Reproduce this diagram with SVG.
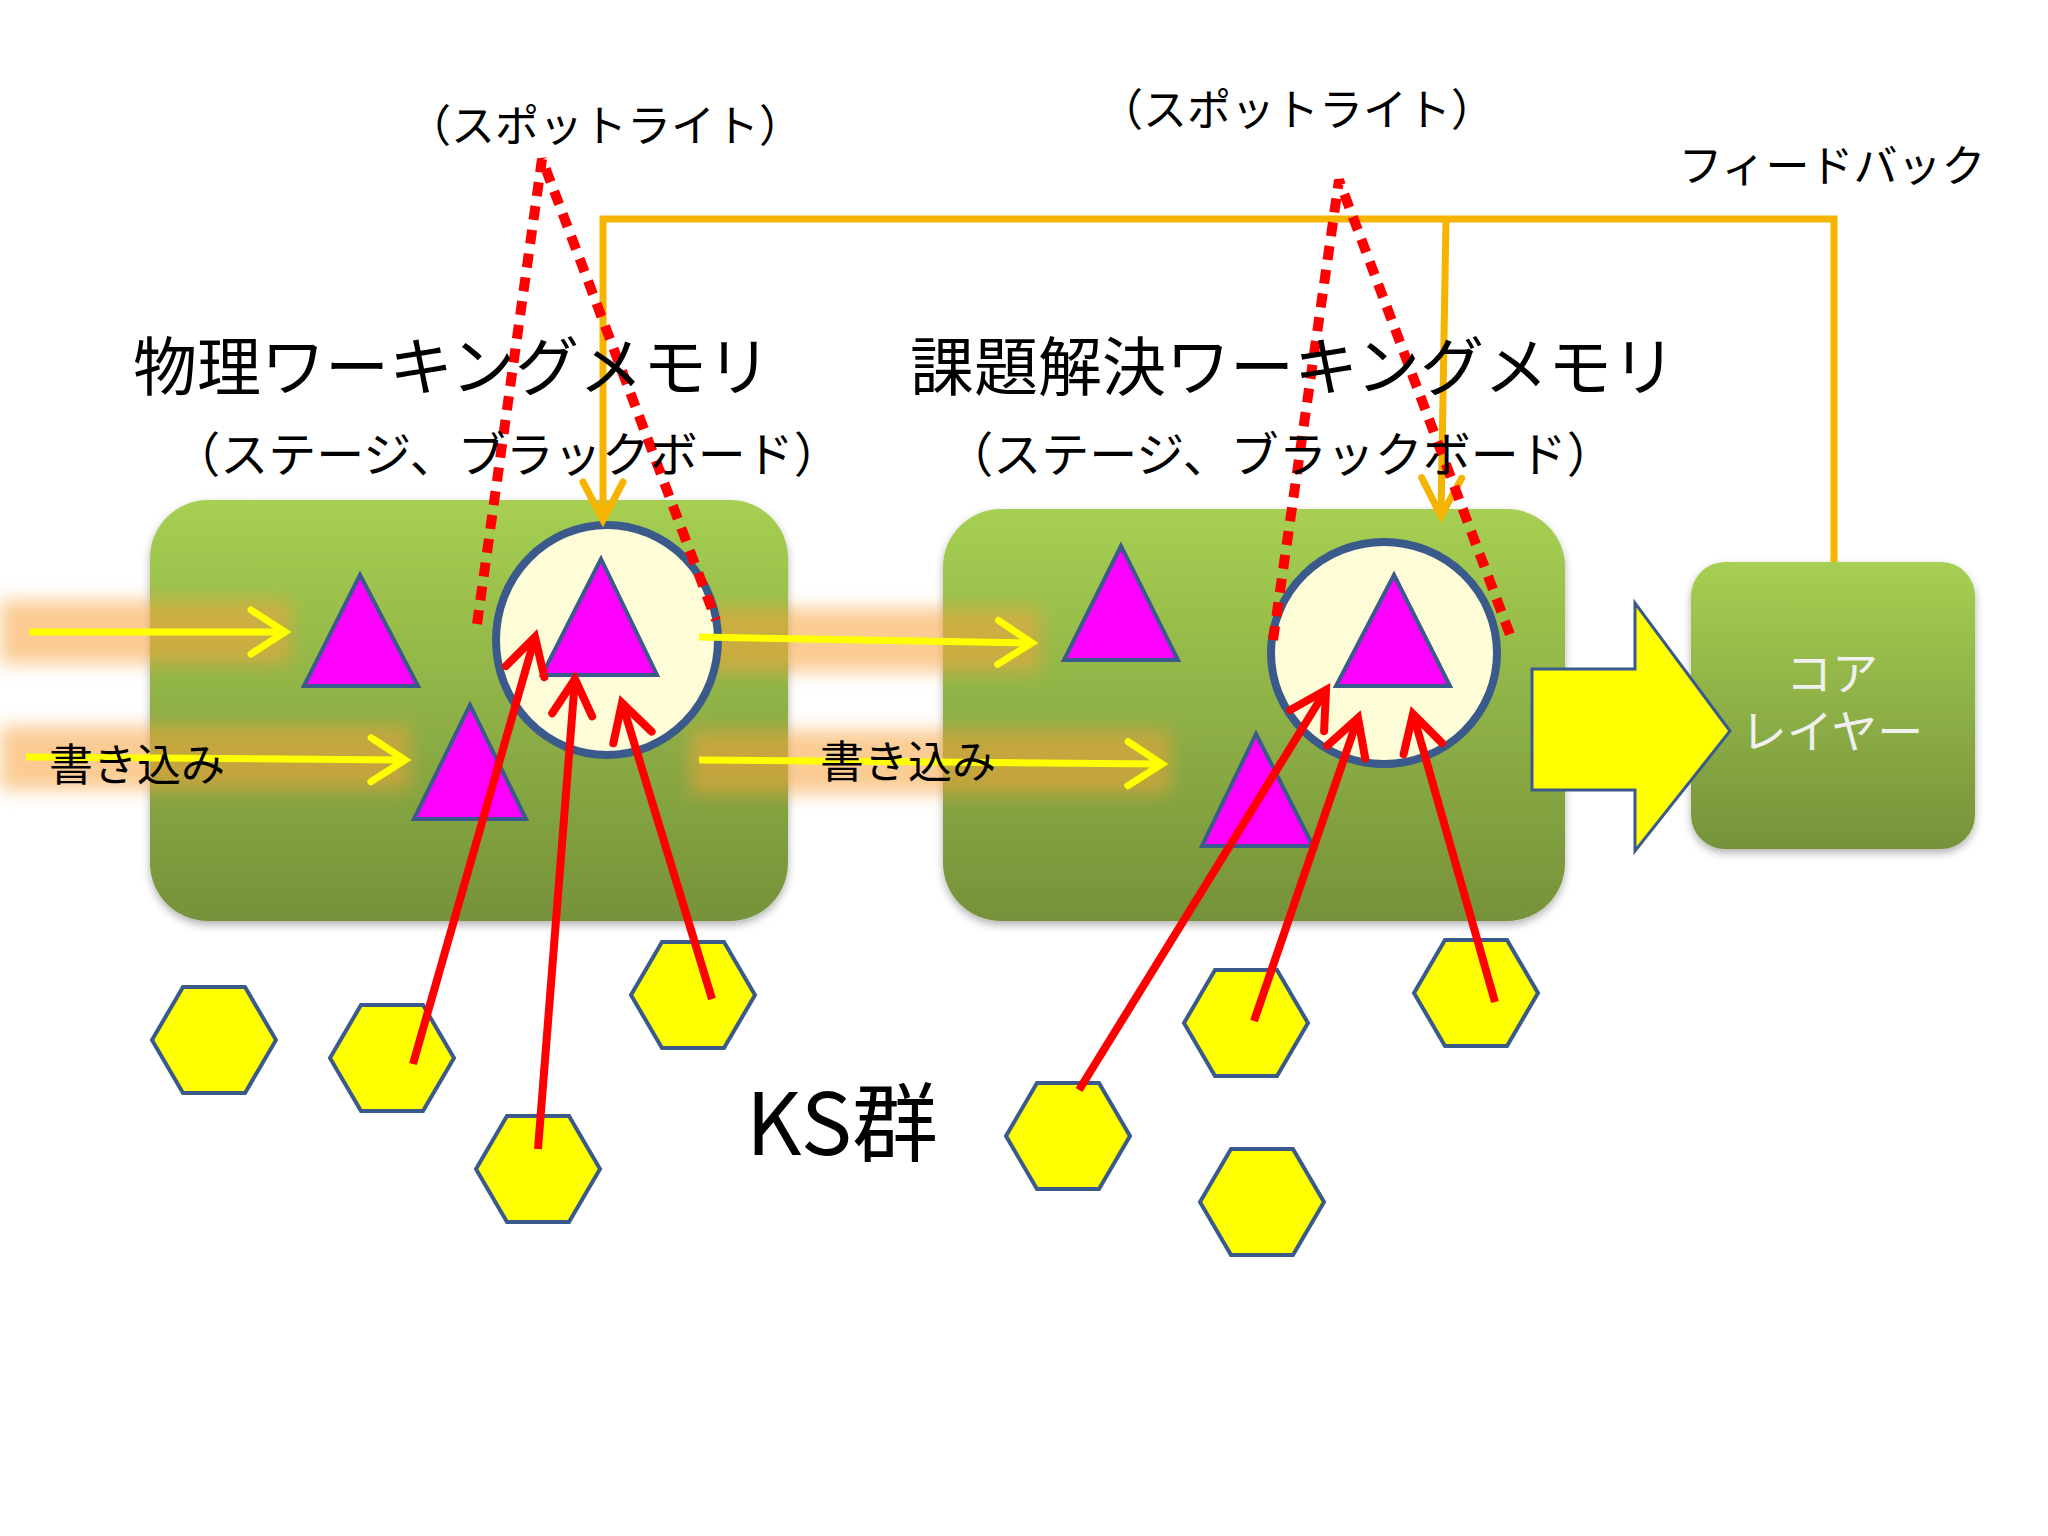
<svg xmlns="http://www.w3.org/2000/svg" width="2048" height="1536" viewBox="0 0 2048 1536">
<defs>
<linearGradient id="g" x1="0" y1="0" x2="0" y2="1"><stop offset="0" stop-color="#a6cf52"/><stop offset="1" stop-color="#76923a"/></linearGradient>
<filter id="blur" x="-20%" y="-100%" width="140%" height="300%"><feGaussianBlur stdDeviation="9"/></filter>
<filter id="sh" x="-10%" y="-10%" width="120%" height="130%"><feDropShadow dx="0" dy="4" stdDeviation="4" flood-color="#000" flood-opacity="0.3"/></filter>
<marker id="ry" refX="0" refY="0" markerWidth="1" markerHeight="1" orient="auto" markerUnits="userSpaceOnUse" overflow="visible"><path d="M-34,-22 L0,0 L-34,22" fill="none" stroke="#ffff00" stroke-width="7" stroke-linecap="round"/></marker>
<marker id="rr" refX="0" refY="0" markerWidth="1" markerHeight="1" orient="auto" markerUnits="userSpaceOnUse" overflow="visible"><path d="M-36,-20 L0,0 L-36,20" fill="none" stroke="#ff0000" stroke-width="8" stroke-linecap="round"/></marker>
<marker id="ro" refX="0" refY="0" markerWidth="1" markerHeight="1" orient="auto" markerUnits="userSpaceOnUse" overflow="visible"><path d="M-38,-20 L0,0 L-38,20" fill="none" stroke="#f5b400" stroke-width="7" stroke-linecap="round"/></marker>
</defs>
<style>
text{font-family:"Noto Sans CJK JP","Noto Sans",sans-serif;text-anchor:middle;fill:#000}
.box{fill:url(#g);filter:url(#sh)}
.tri{fill:#ff00ff;stroke:#3a5a8c;stroke-width:4}
.hex{fill:#ffff00;stroke:#3a5a8c;stroke-width:4}
.circ{fill:#fffcd8;stroke:#3a5a8c;stroke-width:8}
.y{stroke:#ffff00;stroke-width:7;fill:none;marker-end:url(#ry)}
.r{stroke:#ff0000;stroke-width:8;fill:none;marker-end:url(#rr)}
.d{stroke:#ff0000;stroke-width:10;fill:none;stroke-dasharray:14 10}
.o{stroke:#f5b400;stroke-width:7;fill:none}
.glow{fill:#f7a23a;opacity:0.55;filter:url(#blur)}
.cw{fill:#f0f0f0}
</style>
<rect width="2048" height="1536" fill="#fff"/>
<g id="box1"><rect class="box" x="150" y="500" width="638" height="421" rx="58"/></g>
<g id="box2"><rect class="box" x="943" y="509" width="622" height="412" rx="58"/></g>
<g id="core"><rect class="box" x="1691" y="562" width="284" height="287" rx="34"/><text class="cw" x="1832" y="690" font-size="46">コア</text><text class="cw" x="1832" y="748" font-size="46">レイヤー</text></g>
<g id="bigarrow"><path d="M1532,669 L1635,669 L1635,603 L1730,731 L1635,851 L1635,790 L1532,790 Z" fill="#ffff00" stroke="#3a5a8c" stroke-width="3"/></g>
<g id="glows">
<rect class="glow" x="0" y="600" width="290" height="64"/>
<rect class="glow" x="690" y="608" width="350" height="64"/>
<rect class="glow" x="0" y="726" width="410" height="64"/>
<rect class="glow" x="690" y="730" width="480" height="64"/>
</g>
<g id="circle1"><ellipse class="circ" cx="607" cy="640" rx="111" ry="115"/></g>
<g id="circle2"><ellipse class="circ" cx="1384" cy="653" rx="113" ry="111"/></g>
<g id="triangles">
<polygon class="tri" points="360,575 304,686 418,686"/>
<polygon class="tri" points="601,559 542,675 657,675"/>
<polygon class="tri" points="470,705 414,819 526,819"/>
<polygon class="tri" points="1121,546 1064,660 1178,660"/>
<polygon class="tri" points="1394,575 1336,686 1450,686"/>
<polygon class="tri" points="1256,734 1202,846 1313,846"/>
</g>
<g id="hexagons">
<polygon class="hex" points="152,1040 183,987 245,987 276,1040 245,1093 183,1093"/>
<polygon class="hex" points="330,1058 361,1005 423,1005 454,1058 423,1111 361,1111"/>
<polygon class="hex" points="476,1169 507,1116 569,1116 600,1169 569,1222 507,1222"/>
<polygon class="hex" points="631,995 662,942 724,942 755,995 724,1048 662,1048"/>
<polygon class="hex" points="1184,1023 1215,970 1277,970 1308,1023 1277,1076 1215,1076"/>
<polygon class="hex" points="1414,993 1445,940 1507,940 1538,993 1507,1046 1445,1046"/>
<polygon class="hex" points="1006,1136 1037,1083 1099,1083 1130,1136 1099,1189 1037,1189"/>
<polygon class="hex" points="1200,1202 1231,1149 1293,1149 1324,1202 1293,1255 1231,1255"/>
</g>
<g id="connectors">
<line class="y" x1="29" y1="632" x2="285" y2="632"/>
<line class="y" x1="699" y1="637" x2="1032" y2="643"/>
<line class="y" x1="26" y1="757" x2="405" y2="760"/>
<line class="y" x1="699" y1="760" x2="1162" y2="764"/>
<line class="r" x1="413" y1="1064" x2="535" y2="637"/>
<line class="r" x1="538" y1="1149" x2="575" y2="679"/>
<line class="r" x1="712" y1="999" x2="622" y2="703"/>
<line class="r" x1="1079" y1="1090" x2="1326" y2="690"/>
<line class="r" x1="1254" y1="1021" x2="1358" y2="718"/>
<line class="r" x1="1495" y1="1002" x2="1413" y2="714"/>
<polyline class="o" points="1834,562 1834,219 603,219 603,520" marker-end="url(#ro)"/>
<polyline class="o" points="1446,219 1441,516" marker-end="url(#ro)"/>
<polyline class="d" points="477,624 542,159 716,620"/>
<polyline class="d" points="1273,640 1339,180 1512,640"/>
</g>
<g id="labels">
<text x="605" y="142" font-size="44">（スポットライト）</text>
<text x="1297" y="126" font-size="44">（スポットライト）</text>
<text x="1832" y="182" font-size="44">フィードバック</text>
<text x="452" y="390" font-size="64">物理ワーキングメモリ</text>
<text x="1293" y="390" font-size="64">課題解決ワーキングメモリ</text>
<text x="507" y="472" font-size="48">（ステージ、ブラックボード）</text>
<text x="1280" y="472" font-size="48">（ステージ、ブラックボード）</text>
<text x="137" y="781" font-size="44">書き込み</text>
<text x="908" y="778" font-size="44">書き込み</text>
<text x="842" y="1155" font-size="86">KS群</text>
</g>
</svg>
